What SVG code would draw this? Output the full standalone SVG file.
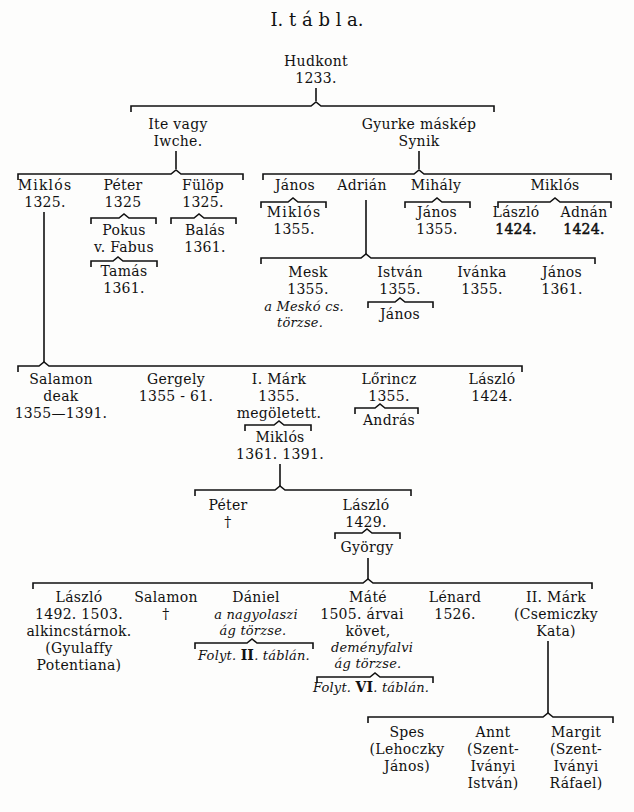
<svg xmlns="http://www.w3.org/2000/svg" width="634" height="812" viewBox="0 0 634 812">
<style>
.t{font-family:"DejaVu Serif","Liberation Serif",serif;font-size:14px;letter-spacing:0.3px;fill:#111;text-anchor:middle}
.ti{font-size:18px;letter-spacing:0}
.i{font-style:italic;font-size:13px;letter-spacing:0.2px}
.b{font-weight:bold}
.h{stroke:#111;stroke-width:0.5px}
.sp{letter-spacing:1.2px}
.br,.ln{fill:none;stroke:#111;stroke-width:1.6}
</style>
<rect width="634" height="812" fill="#fdfdfc"/>
<text class="t ti" x="317" y="26">I. t á b l a.</text>
<g id="connectors">
<path class="ln" d="M316,88V101"/>
<path class="br" d="M131,112V106H311L316,102L321,106H494V112"/>
<path class="ln" d="M176,151V169"/>
<path class="ln" d="M419,151V169"/>
<path class="br" d="M18,180V174H171L176,170L181,174H243V180"/>
<path class="br" d="M263,180V174H414L419,170L424,174H611V180"/>
<path class="br" d="M91,224V218H119L124,214L129,218H156V224"/>
<path class="br" d="M171,224V218H194L199,214L204,218H236V224"/>
<path class="br" d="M261,208V202H288L293,198L298,202H326V208"/>
<path class="br" d="M405,208V202H432L437,198L442,202H470V208"/>
<path class="br" d="M498,208V202H550L555,198L560,202H611V208"/>
<path class="br" d="M91,267V261H113L118,257L123,261H157V267"/>
<path class="ln" d="M366,200V254"/>
<path class="br" d="M261,264V258H361L366,254L371,258H595V264"/>
<path class="br" d="M368,308V302H395L400,298L405,302H433V308"/>
<path class="ln" d="M44,212V362"/>
<path class="br" d="M18,372V366H39L44,362L49,366H522V372"/>
<path class="br" d="M245,431V425H274L279,421L284,425H311V431"/>
<path class="br" d="M355,414V408H375L380,404L385,408H418V414"/>
<path class="ln" d="M280,464V486"/>
<path class="br" d="M195,496V490H275L280,486L285,490H411V496"/>
<path class="br" d="M335,539V533H362L367,529L372,533H400V539"/>
<path class="ln" d="M368,558V579"/>
<path class="br" d="M33,589V583H363L368,579L373,583H592V589"/>
<path class="br" d="M195,649V643H247L252,639L257,643H313V649"/>
<path class="br" d="M317,683V677H370L375,673L380,677H433V683"/>
<path class="ln" d="M548,641V713"/>
<path class="br" d="M368,723V717H543L548,713L553,717H613V723"/>
</g>
<g id="hudkont"><text class="t" x="316" y="66">Hudkont</text><text class="t" x="316" y="83">1233.</text></g>
<g id="ite"><text class="t" x="178" y="129">Ite vagy</text><text class="t" x="178" y="146">Iwche.</text></g>
<g id="gyurke"><text class="t" x="419" y="129">Gyurke máskép</text><text class="t" x="419" y="146">Synik</text></g>
<g id="miklos1"><text class="t sp" x="45" y="190">Miklós</text><text class="t" x="45" y="207">1325.</text></g>
<g id="peter1"><text class="t" x="123" y="190">Péter</text><text class="t" x="123" y="207">1325</text></g>
<g id="fulop"><text class="t" x="203" y="190">Fülöp</text><text class="t" x="203" y="207">1325.</text></g>
<g id="pokus"><text class="t" x="124" y="235">Pokus</text><text class="t" x="124" y="252">v. Fabus</text></g>
<g id="balas"><text class="t" x="205" y="235">Balás</text><text class="t" x="205" y="252">1361.</text></g>
<g id="tamas"><text class="t" x="124" y="276">Tamás</text><text class="t" x="124" y="293">1361.</text></g>
<g id="janos1"><text class="t" x="295" y="190">János</text></g>
<g id="adrian"><text class="t" x="362" y="190">Adrián</text></g>
<g id="mihaly"><text class="t" x="436" y="190">Mihály</text></g>
<g id="miklos2"><text class="t" x="555" y="190">Miklós</text></g>
<g id="miklos3"><text class="t sp" x="294" y="217">Miklós</text><text class="t" x="294" y="234">1355.</text></g>
<g id="janos2"><text class="t" x="437" y="217">János</text><text class="t" x="437" y="234">1355.</text></g>
<g id="laszlo1"><text class="t" x="516" y="217">László</text><text class="t h" x="516" y="234">1424.</text></g>
<g id="adnan"><text class="t" x="584" y="217">Adnán</text><text class="t h" x="584" y="234">1424.</text></g>
<g id="mesk"><text class="t" x="308" y="277">Mesk</text><text class="t" x="308" y="294">1355.</text><text class="t i" x="304" y="311">a Meskó cs.</text><text class="t i" x="300" y="327">törzse.</text></g>
<g id="istvan"><text class="t" x="400" y="277">István</text><text class="t" x="400" y="294">1355.</text></g>
<g id="janos3"><text class="t" x="400" y="319">János</text></g>
<g id="ivanka"><text class="t" x="482" y="277">Ivánka</text><text class="t" x="482" y="294">1355.</text></g>
<g id="janos4"><text class="t" x="562" y="277">János</text><text class="t" x="562" y="294">1361.</text></g>
<g id="salamon1"><text class="t" x="61" y="384">Salamon</text><text class="t" x="61" y="401">deak</text><text class="t" x="61" y="418">1355—1391.</text></g>
<g id="gergely"><text class="t" x="176" y="384">Gergely</text><text class="t" x="176" y="401">1355 - 61.</text></g>
<g id="mark1"><text class="t" x="279" y="384">I. Márk</text><text class="t" x="279" y="401">1355.</text><text class="t" x="279" y="418">megöletett.</text></g>
<g id="miklos4"><text class="t" x="280" y="442">Miklós</text><text class="t" x="280" y="459">1361. 1391.</text></g>
<g id="lorincz"><text class="t" x="389" y="384">Lőrincz</text><text class="t" x="389" y="401">1355.</text></g>
<g id="andras"><text class="t" x="389" y="425">András</text></g>
<g id="laszlo2"><text class="t" x="492" y="384">László</text><text class="t" x="492" y="401">1424.</text></g>
<g id="peter2"><text class="t" x="228" y="510">Péter</text><text class="t" x="228" y="527">†</text></g>
<g id="laszlo3"><text class="t" x="366" y="510">László</text><text class="t" x="366" y="527">1429.</text></g>
<g id="gyorgy"><text class="t" x="367" y="552">György</text></g>
<g id="laszlo4"><text class="t" x="79" y="602">László</text><text class="t" x="79" y="619">1492. 1503.</text><text class="t" x="79" y="636">alkincstárnok.</text><text class="t" x="79" y="653">(Gyulaffy</text><text class="t" x="79" y="670">Potentiana)</text></g>
<g id="salamon2"><text class="t" x="166" y="602">Salamon</text><text class="t" x="166" y="619">†</text></g>
<g id="daniel"><text class="t" x="256" y="602">Dániel</text><text class="t i" x="256" y="619">a nagyolaszi</text><text class="t i" x="253" y="635">ág törzse.</text><text class="t i" x="254" y="660">Folyt. <tspan class="b" font-style="normal" font-size="14">II</tspan>. táblán.</text></g>
<g id="mate"><text class="t" x="368" y="602">Máté</text><text class="t" x="362" y="619">1505. árvai</text><text class="t" x="368" y="636">követ,</text><text class="t i" x="372" y="652">deményfalvi</text><text class="t i" x="368" y="668">ág törzse.</text><text class="t i" x="371" y="692">Folyt. <tspan class="b" font-style="normal" font-size="14">VI</tspan>. táblán.</text></g>
<g id="lenard"><text class="t" x="455" y="602">Lénard</text><text class="t" x="455" y="619">1526.</text></g>
<g id="mark2"><text class="t" x="556" y="602">II. Márk</text><text class="t" x="556" y="619">(Csemiczky</text><text class="t" x="556" y="636">Kata)</text></g>
<g id="spes"><text class="t" x="407" y="737">Spes</text><text class="t" x="407" y="754">(Lehoczky</text><text class="t" x="407" y="771">János)</text></g>
<g id="annt"><text class="t" x="493" y="737">Annt</text><text class="t" x="493" y="754">(Szent-</text><text class="t" x="493" y="771">Iványi</text><text class="t" x="493" y="788">István)</text></g>
<g id="margit"><text class="t" x="576" y="737">Margit</text><text class="t" x="576" y="754">(Szent-</text><text class="t" x="576" y="771">Iványi</text><text class="t" x="576" y="788">Ráfael)</text></g>
</svg>
